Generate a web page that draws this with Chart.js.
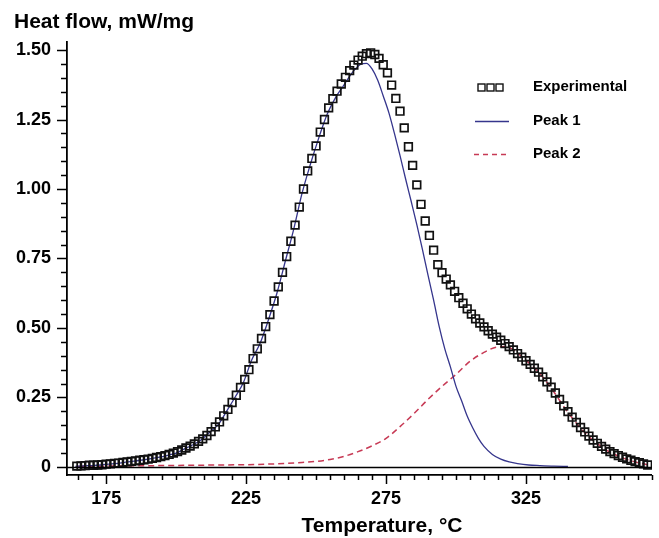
<!DOCTYPE html>
<html>
<head>
<meta charset="utf-8">
<script src="https://cdn.jsdelivr.net/npm/chart.js@4.4.0/dist/chart.umd.min.js"></script>
<style>
  body { margin: 0; background: #fff; }
  canvas { display: block; }
</style>
</head>
<body>
<canvas id="dsc" width="659" height="538"></canvas>
<script>
// experimental DSC points (temperature in °C, heat flow in mW/mg)
var expTemp = [164.5,166,167.5,169,170.5,172,173.5,175,176.5,178,179.5,181,182.5,184,185.5,187,188.5,190,191.5,193,
  194.5,196,197.5,199,200.5,202,203.5,205,206.5,208,209.5,211,212.5,214,215.5,217,218.5,220,221.5,223,
  224.5,226,227.5,229,230.5,232,233.5,235,236.5,238,239.5,241,242.5,244,245.5,247,248.5,250,251.5,253,
  254.5,256,257.5,259,260.5,262,263.5,265,266.5,268,269.5,271,272.5,274,275.5,277,278.5,280,281.5,283,
  284.5,286,287.5,289,290.5,292,293.5,295,296.5,298,299.5,301,302.5,304,305.5,307,308.5,310,311.5,313,
  314.5,316,317.5,319,320.5,322,323.5,325,326.5,328,329.5,331,332.5,334,335.5,337,338.5,340,341.5,343,
  344.5,346,347.5,349,350.5,352,353.5,355,356.5,358,359.5,361,362.5,364,365.5,367,368.5];
var expFlow = [0.003,0.004,0.005,0.006,0.006,0.007,0.008,0.010,0.011,0.013,0.014,0.016,0.018,0.020,0.022,0.024,0.026,0.028,0.031,0.034,
  0.037,0.041,0.045,0.050,0.055,0.061,0.068,0.075,0.083,0.092,0.101,0.113,0.127,0.144,0.162,0.184,0.207,0.232,0.258,0.286,
  0.315,0.350,0.390,0.425,0.462,0.505,0.548,0.597,0.648,0.700,0.757,0.812,0.870,0.935,1.000,1.065,1.110,1.155,1.205,1.250,
  1.292,1.325,1.352,1.378,1.402,1.426,1.446,1.464,1.478,1.487,1.490,1.484,1.470,1.447,1.418,1.374,1.326,1.280,1.220,1.152,
  1.085,1.015,0.945,0.885,0.833,0.780,0.728,0.699,0.676,0.655,0.632,0.609,0.589,0.569,0.550,0.533,0.518,0.504,0.490,0.478,
  0.467,0.456,0.444,0.433,0.421,0.408,0.395,0.382,0.369,0.355,0.341,0.324,0.306,0.287,0.266,0.243,0.220,0.199,0.179,0.160,
  0.142,0.126,0.111,0.097,0.085,0.074,0.064,0.055,0.048,0.041,0.035,0.029,0.024,0.019,0.015,0.011,0.007];

// fitted peak 1
var p1Temp = [164,167,170,173,176,179,182,185,188,191,194,197,200,203,206,209,212,215,218,221,224,227,230,233,236,239,242,245,248,251,
  254,257,260,263,266,268,270,272,274,276,278,280,282,284,286,288,290,292,294,296,298,300,302,304,306,308,310,313,316,319,322,326,330,335,340];
var p1Flow = [0.002,0.004,0.005,0.007,0.010,0.013,0.017,0.021,0.025,0.030,0.035,0.042,0.050,0.065,0.080,0.098,0.125,0.152,0.200,0.250,
  0.303,0.385,0.445,0.530,0.625,0.740,0.855,0.985,1.090,1.185,1.270,1.330,1.375,1.420,1.449,1.452,1.432,1.392,1.335,1.275,
  1.200,1.120,1.036,0.955,0.872,0.783,0.690,0.600,0.505,0.425,0.360,0.290,0.238,0.183,0.140,0.103,0.074,0.045,0.028,0.018,
  0.012,0.007,0.005,0.003,0.002];

// fitted peak 2
var p2Temp = [165,175,185,195,205,215,225,235,245,250,255,260,265,270,275,280,285,290,295,300,305,310,315,318,321,324,327,330,333,336,
  339,342,345,348,351,354,357,360,363,366,369];
var p2Flow = [0.002,0.003,0.004,0.005,0.006,0.007,0.008,0.011,0.016,0.020,0.027,0.038,0.055,0.076,0.103,0.145,0.192,0.243,0.290,0.333,
  0.380,0.412,0.432,0.433,0.418,0.392,0.366,0.335,0.298,0.255,0.210,0.170,0.135,0.104,0.080,0.059,0.044,0.031,0.021,0.013,0.007];

var xLabels = [175, 225, 275, 325];
var yLabels = [0, 0.25, 0.5, 0.75, 1.0, 1.25, 1.5];

function pts(xs, ys) {
  return xs.map(function (t, i) { return { x: t, y: ys[i] }; });
}

var FONT = '"Liberation Sans", Arial, Helvetica, sans-serif';
var P1_COLOR = '#35358c';
var P2_COLOR = '#c73a55';

// minor/major tick marks, zero line, titles and the legend
var decorations = {
  id: 'decorations',
  afterDraw: function (chart) {
    var ctx = chart.ctx;
    var area = chart.chartArea;
    var xs = chart.scales.x, ys = chart.scales.y;
    ctx.save();
    ctx.strokeStyle = '#000';
    ctx.lineWidth = 1.5;

    // zero line
    var y0 = Math.round(ys.getPixelForValue(0)) + 0.5;
    ctx.beginPath();
    ctx.moveTo(area.left, y0);
    ctx.lineTo(area.right, y0);
    ctx.stroke();

    // x ticks every 5 °C
    ctx.beginPath();
    for (var t = 165; t <= 370; t += 5) {
      var px = Math.round(xs.getPixelForValue(t)) + 0.5;
      var len = (t - 175) % 50 === 0 ? 9 : 5;
      ctx.moveTo(px, area.bottom);
      ctx.lineTo(px, area.bottom + len);
    }
    // y ticks every 0.05
    for (var k = 0; k <= 30; k++) {
      var py = Math.round(ys.getPixelForValue(k * 0.05)) + 0.5;
      var l = k % 5 === 0 ? 10 : 6;
      ctx.moveTo(area.left - l, py);
      ctx.lineTo(area.left, py);
    }
    ctx.stroke();

    // titles
    ctx.fillStyle = '#000';
    ctx.font = 'bold 21px ' + FONT;
    ctx.textBaseline = 'middle';
    ctx.textAlign = 'left';
    ctx.fillText('Heat flow, mW/mg', 14, 22);
    ctx.textAlign = 'center';
    ctx.fillText('Temperature, °C', 382, 526);

    // legend
    ctx.font = 'bold 15px ' + FONT;
    ctx.textAlign = 'left';
    ctx.fillText('Experimental', 533, 87);
    ctx.fillText('Peak 1', 533, 121);
    ctx.fillText('Peak 2', 533, 154);

    ctx.lineWidth = 1.4;
    ctx.strokeStyle = '#111';
    [481, 490, 499].forEach(function (cx) {
      ctx.strokeRect(cx - 3, 84, 7, 7);
    });

    ctx.strokeStyle = P1_COLOR;
    ctx.beginPath();
    ctx.moveTo(475, 121.5);
    ctx.lineTo(509, 121.5);
    ctx.stroke();

    ctx.strokeStyle = P2_COLOR;
    ctx.setLineDash([5, 4]);
    ctx.beginPath();
    ctx.moveTo(474, 154.5);
    ctx.lineTo(506, 154.5);
    ctx.stroke();
    ctx.restore();
  }
};

var ctx = document.getElementById('dsc').getContext('2d');
var chart = new Chart(ctx, {
  type: 'line',
  data: {
    datasets: [{
      label: 'Peak 1',
      data: pts(p1Temp, p1Flow),
      borderColor: P1_COLOR,
      borderWidth: 1.3,
      pointRadius: 0,
      cubicInterpolationMode: 'monotone',
      order: 2
    }, {
      label: 'Peak 2',
      data: pts(p2Temp, p2Flow),
      borderColor: P2_COLOR,
      borderWidth: 1.5,
      borderDash: [6, 4],
      pointRadius: 0,
      cubicInterpolationMode: 'monotone',
      order: 3
    }, {
      label: 'Experimental',
      data: pts(expTemp, expFlow),
      showLine: false,
      pointStyle: 'rect',
      pointRadius: 5.4,
      pointBorderWidth: 1.7,
      pointBorderColor: '#111',
      pointBackgroundColor: 'rgba(0,0,0,0)',
      order: 1
    }]
  },
  options: {
    responsive: false,
    animation: false,
    layout: { padding: { top: 42, right: 4, left: 0, bottom: 0 } },
    plugins: {
      legend: { display: false },
      tooltip: { enabled: false }
    },
    scales: {
      x: {
        type: 'linear',
        min: 161,
        max: 370,
        afterFit: function (s) { s.height = 63; },
        afterBuildTicks: function (s) {
          s.ticks = xLabels.map(function (v) { return { value: v }; });
        },
        grid: { display: false },
        border: { display: true, color: '#000', width: 1.8 },
        ticks: {
          color: '#000',
          padding: 5,
          maxRotation: 0,
          font: { family: FONT, size: 18, weight: 'bold' }
        }
      },
      y: {
        min: -0.029,
        max: 1.529,
        afterFit: function (s) { s.width = 67; },
        afterBuildTicks: function (s) {
          s.ticks = yLabels.map(function (v) { return { value: v }; });
        },
        grid: { display: false },
        border: { display: true, color: '#000', width: 1.8 },
        ticks: {
          color: '#000',
          padding: 8,
          font: { family: FONT, size: 18, weight: 'bold' },
          callback: function (v) { return v === 0 ? '0' : Number(v).toFixed(2); }
        }
      }
    }
  },
  plugins: [decorations]
});
</script>
</body>
</html>
